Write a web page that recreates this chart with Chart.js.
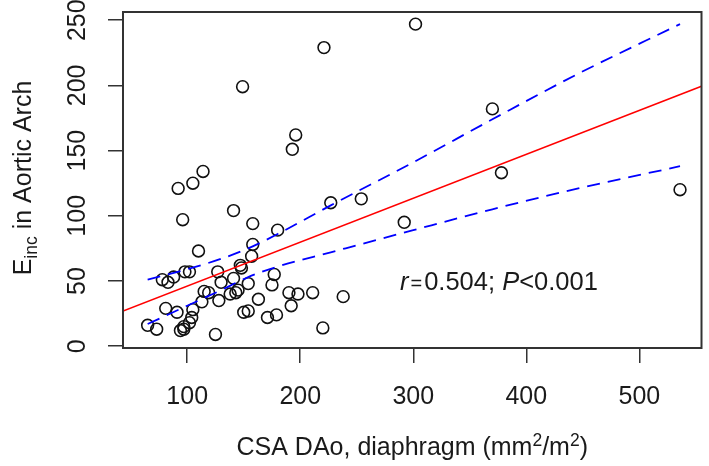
<!DOCTYPE html>
<html>
<head>
<meta charset="utf-8">
<script src="https://cdn.jsdelivr.net/npm/chart.js@4.4.1/dist/chart.umd.min.js"></script>
<style>
  html, body { margin: 0; padding: 0; background: #fff; }
  #wrap { width: 709px; height: 466px; }
</style>
</head>
<body>
<div id="wrap"><canvas id="c" width="709" height="466"></canvas></div>
<script>
// ---- data ----
const csaX = [302, 221, 149, 370, 196, 193, 114, 378, 105, 92, 536, 254, 227, 141, 96, 292, 158, 180, 158, 110,
              157, 147, 148, 127, 98, 102, 177, 88, 141, 78, 83, 130, 154, 175, 145, 115, 119, 143, 211, 190,
              138, 198, 238, 163, 128, 113, 192, 81, 105, 91, 150, 154, 179, 104, 171, 102, 65, 97, 73, 97,
              94, 220, 125];
const eincY = [247, 229, 199, 182, 162, 151, 134, 133, 125, 121, 120, 113, 110, 104, 97, 95, 94, 89, 78, 73,
               69, 62, 60, 57, 57, 57, 55, 53, 52, 51, 49, 49, 48, 47, 43, 42, 41, 41, 41, 41,
               40, 40, 38, 36, 35, 34, 31, 29, 28, 26, 26, 27, 24, 22, 22, 18, 16, 15, 13, 13,
               12, 14, 9];
const fitX = [43.2, 555];
const fitY = [26.9, 199.3];
const bandX = [65, 100, 130, 154, 180, 227, 300, 370, 446, 536];
const bandUpper = [51, 59, 67, 75, 86, 108, 141, 174, 209, 247];
const bandLower = [17, 31, 43, 53, 61, 72, 89, 105, 121, 138];
const xTicks = [100, 200, 300, 400, 500];
const yTicks = [0, 50, 100, 150, 200, 250];
const xRange = [43.2, 555];
const yRange = [-1.4, 256.3];

const FONT = '"Liberation Sans", Arial, Helvetica, sans-serif';
const TXT = '#1a1a1a';

const pts = csaX.map((x, i) => ({ x: x, y: eincY[i] }));
const fitPts = fitX.map((x, i) => ({ x: x, y: fitY[i] }));
const upPts = bandX.map((x, i) => ({ x: x, y: bandUpper[i] }));
const loPts = bandX.map((x, i) => ({ x: x, y: bandLower[i] }));

const textPlugin = {
  id: 'rtext',
  afterDraw(chart) {
    const ctx = chart.ctx;
    const a = chart.chartArea;
    const xs = chart.scales.x, ys = chart.scales.y;
    ctx.save();
    // box
    ctx.strokeStyle = '#333';
    ctx.lineWidth = 2;
    ctx.strokeRect(a.left, a.top, a.right - a.left, a.bottom - a.top);
    ctx.fillStyle = TXT;
    const big = '25px ' + FONT, small = '17.5px ' + FONT;
    // x tick labels
    ctx.font = big;
    ctx.textAlign = 'center';
    ctx.textBaseline = 'alphabetic';
    xTicks.forEach(v => ctx.fillText(String(v), xs.getPixelForValue(v), 404));
    // y tick labels (rotated, parallel to axis)
    yTicks.forEach(v => {
      ctx.save();
      ctx.translate(85, ys.getPixelForValue(v));
      ctx.rotate(-Math.PI / 2);
      ctx.textAlign = 'center';
      ctx.fillText(String(v), 0, 0);
      ctx.restore();
    });
    // x title with superscripts
    const xParts = [['CSA DAo, diaphragm (mm', big, 0], ['2', small, -9], ['/m', big, 0], ['2', small, -9], [')', big, 0]];
    let tw = 0;
    xParts.forEach(p => { ctx.font = p[1]; tw += ctx.measureText(p[0]).width; });
    let cx = (a.left + a.right) / 2 - tw / 2;
    ctx.textAlign = 'left';
    xParts.forEach(p => { ctx.font = p[1]; ctx.fillText(p[0], cx, 455 + p[2]); cx += ctx.measureText(p[0]).width; });
    // y title with subscript
    const yParts = [['E', big, 0], ['inc', small, 6], [' in Aortic Arch', big, 0]];
    tw = 0;
    yParts.forEach(p => { ctx.font = p[1]; tw += ctx.measureText(p[0]).width; });
    ctx.save();
    ctx.translate(31, 178);
    ctx.rotate(-Math.PI / 2);
    let cy = -tw / 2;
    yParts.forEach(p => { ctx.font = p[1]; ctx.fillText(p[0], cy, p[2]); cy += ctx.measureText(p[0]).width; });
    ctx.restore();
    // annotation
    const ann = [['r', 'italic 25.5px ' + FONT, 2], ['=', '20px ' + FONT, 2], ['0.504;', '25.5px ' + FONT, 0], [' ', '25.5px ' + FONT, 0],
                 ['P', 'italic 25.5px ' + FONT, 0], ['<0.001', '25.5px ' + FONT, 0]];
    let ax = a.left + 277;
    ann.forEach(p => { ctx.font = p[1]; ctx.fillText(p[0], ax, 290); ax += ctx.measureText(p[0]).width + p[2]; });
    ctx.restore();
  }
};

new Chart(document.getElementById('c'), {
  type: 'scatter',
  data: {
    datasets: [
      { type: 'line', data: fitPts, borderColor: '#ff0000', borderWidth: 1.6, pointRadius: 0, fill: false, tension: 0 },
      { type: 'line', data: upPts, borderColor: '#0000ff', borderWidth: 1.8, borderDash: [13, 8], pointRadius: 0, fill: false, cubicInterpolationMode: 'monotone' },
      { type: 'line', data: loPts, borderColor: '#0000ff', borderWidth: 1.8, borderDash: [13, 8], pointRadius: 0, fill: false, cubicInterpolationMode: 'monotone' },
      { data: pts, pointStyle: 'circle', pointRadius: 5.9, pointBorderWidth: 1.6, pointBorderColor: '#111', pointBackgroundColor: 'rgba(0,0,0,0)', pointHoverRadius: 5.9 }
    ]
  },
  options: {
    responsive: false,
    animation: false,
    devicePixelRatio: 1,
    layout: { padding: { top: 12, right: 1, left: 0, bottom: 0 } },
    plugins: { legend: { display: false }, tooltip: { enabled: false } },
    scales: {
      x: {
        type: 'linear', min: xRange[0], max: xRange[1],
        afterBuildTicks: s => { s.ticks = xTicks.map(v => ({ value: v })); },
        afterFit: s => { s.height = 118; },
        ticks: { display: false },
        border: { display: false },
        grid: { display: true, drawOnChartArea: false, drawTicks: true, tickLength: 15, color: '#333', lineWidth: 1.5 }
      },
      y: {
        type: 'linear', min: yRange[0], max: yRange[1],
        afterBuildTicks: s => { s.ticks = yTicks.map(v => ({ value: v })); },
        afterFit: s => { s.width = 123; },
        ticks: { display: false },
        border: { display: false },
        grid: { display: true, drawOnChartArea: false, drawTicks: true, tickLength: 15, color: '#333', lineWidth: 1.5 }
      }
    }
  },
  plugins: [textPlugin]
});
</script>
</body>
</html>
